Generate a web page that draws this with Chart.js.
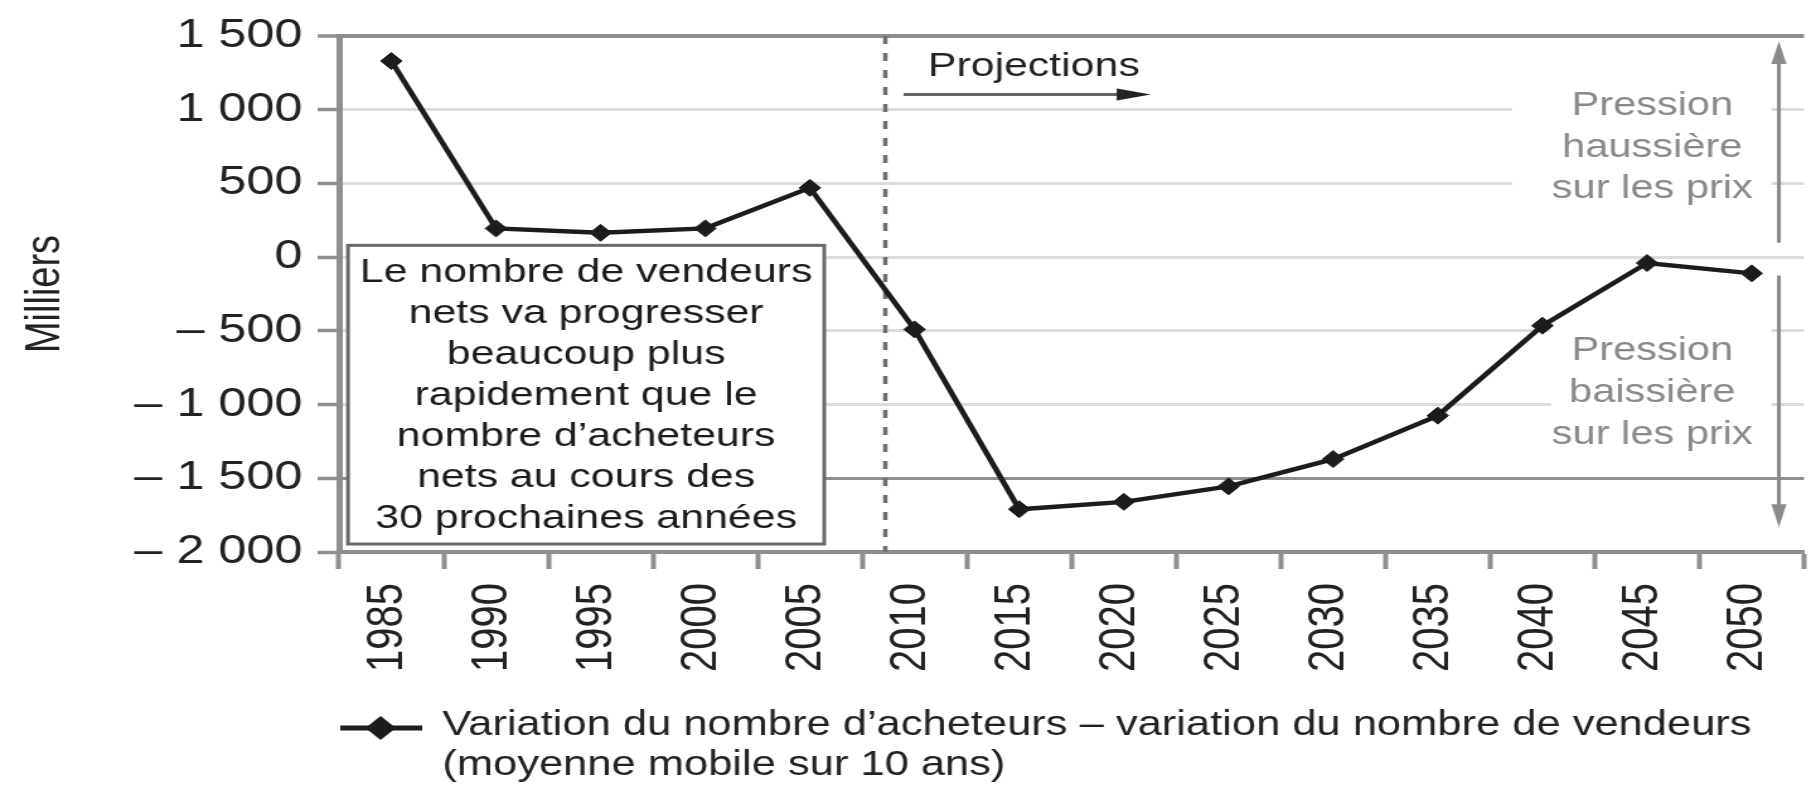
<!DOCTYPE html>
<html lang="fr">
<head>
<meta charset="utf-8">
<title>Acheteurs nets et vendeurs nets</title>
<script src="https://cdn.jsdelivr.net/npm/chart.js@4.4.1/dist/chart.umd.min.js"></script>
<style>
    html, body { margin: 0; padding: 0; background: #fff; overflow: hidden; }
</style>
</head>
<body>
<!-- Le graphique d'origine est étiré en largeur : dessin à 1441 px, affichage à 1816 px -->
<canvas id="graphique" width="1441" height="788" style="display:block;width:1816px;height:788px"></canvas>
<script>
// Années (moyenne mobile sur 10 ans)
const annees = ['1985', '1990', '1995', '2000', '2005', '2010', '2015',
    '2020', '2025', '2030', '2035', '2040', '2045', '2050'];

// Variation du nombre d'acheteurs – variation du nombre de vendeurs (milliers)
const soldeAcheteursVendeurs = [1330, 195, 165, 195, 470, -490, -1710,
    -1660, -1555, -1370, -1075, -465, -40, -110];

// Graduations de l'axe vertical
const graduationsY = [1500, 1000, 500, 0, -500, -1000, -1500, -2000];
const libellesY = ['1 500', '1 000', '500', '0', '– 500', '– 1 000', '– 1 500', '– 2 000'];

// Début des projections (entre 2005 et 2010)
const anneeProjections = 2008.6;

// Textes
const texteEncadre = ['Le nombre de vendeurs', 'nets va progresser', 'beaucoup plus',
    'rapidement que le', 'nombre d’acheteurs', 'nets au cours des', '30 prochaines années'];
const texteHausse = ['Pression', 'haussière', 'sur les prix'];
const texteBaisse = ['Pression', 'baissière', 'sur les prix'];
const texteLegende = ['Variation du nombre d’acheteurs – variation du nombre de vendeurs',
    '(moyenne mobile sur 10 ans)'];

const POLICE = "'Liberation Sans', Arial, sans-serif";
const GRIS_FONCE = '#8f8f8f';
const GRIS_CLAIR = '#dcdcdc';
const GRIS_TEXTE = '#8a8a8a';
const NOIR = '#1c1c1c';

Chart.defaults.font.family = POLICE;

// rang (fractionnaire) d'une année sur l'axe des catégories
function rangAnnee(annee) {
    return (annee - Number(annees[0])) / (Number(annees[1]) - Number(annees[0]));
}

function fleche(ctx, x, y, dx, dy, longueur, demiLargeur) {
    // pointe triangulaire en (x, y), orientée selon (dx, dy)
    ctx.beginPath();
    ctx.moveTo(x, y);
    ctx.lineTo(x - dx * longueur - dy * demiLargeur, y - dy * longueur - dx * demiLargeur);
    ctx.lineTo(x - dx * longueur + dy * demiLargeur, y - dy * longueur + dx * demiLargeur);
    ctx.closePath();
    ctx.fill();
}

// Annotations : encadré, pointillés, flèches, textes et légende
const habillage = {
    id: 'habillage',
    beforeDatasetsDraw(chart) {
        const { ctx, scales: { x, y } } = chart;
        const px = i => x.getPixelForValue(i);
        const py = v => y.getPixelForValue(v);
        ctx.save();

        // fonds blancs derrière les textes de droite
        ctx.fillStyle = '#fff';
        ctx.fillRect(px(10.71), py(1312), px(13.19) - px(10.71), py(167) - py(1312));
        ctx.fillRect(px(11.08), py(-237), px(13.19) - px(11.08), py(-1381) - py(-237));

        // ligne pointillée : début des projections
        const xp = px(rangAnnee(anneeProjections));
        ctx.strokeStyle = '#6e6e6e';
        ctx.lineWidth = 3.5;
        ctx.setLineDash([8, 9]);
        ctx.beginPath();
        ctx.moveTo(xp, py(1500));
        ctx.lineTo(xp, py(-2000));
        ctx.stroke();
        ctx.setLineDash([]);

        // « Projections » et sa flèche
        ctx.fillStyle = '#222';
        ctx.font = '34px ' + POLICE;
        ctx.textAlign = 'left';
        ctx.textBaseline = 'alphabetic';
        ctx.fillText('Projections', px(5.127), py(1231));
        const ya = py(1103);
        ctx.strokeStyle = '#666';
        ctx.lineWidth = 3;
        ctx.beginPath();
        ctx.moveTo(px(4.895), ya);
        ctx.lineTo(px(7.257) - 20, ya);
        ctx.stroke();
        ctx.fillStyle = '#222';
        fleche(ctx, px(7.257), ya, 1, 0, 27, 6);

        // encadré de gauche
        const bx1 = px(-0.414), bx2 = px(4.137), by1 = py(80), by2 = py(-1946);
        ctx.fillStyle = '#fff';
        ctx.fillRect(bx1, by1, bx2 - bx1, by2 - by1);
        ctx.strokeStyle = '#6a6a6a';
        ctx.lineWidth = 3;
        ctx.strokeRect(bx1, by1, bx2 - bx1, by2 - by1);
        ctx.fillStyle = NOIR;
        ctx.font = '34px ' + POLICE;
        ctx.textAlign = 'center';
        texteEncadre.forEach((ligne, i) => {
            ctx.fillText(ligne, (bx1 + bx2) / 2, by1 + 37 + i * 41);
        });

        // pressions sur les prix
        ctx.fillStyle = GRIS_TEXTE;
        ctx.font = '33px ' + POLICE;
        const xc = px(12.05);
        texteHausse.forEach((ligne, i) => ctx.fillText(ligne, xc, py(962) + i * 41.5));
        texteBaisse.forEach((ligne, i) => ctx.fillText(ligne, xc, py(-701) + i * 42));

        // double flèche verticale
        const xf = px(13.26);
        ctx.strokeStyle = GRIS_TEXTE;
        ctx.fillStyle = GRIS_TEXTE;
        ctx.lineWidth = 3;
        ctx.beginPath();
        ctx.moveTo(xf, py(98));
        ctx.lineTo(xf, py(1466) + 15);
        ctx.moveTo(xf, py(-124));
        ctx.lineTo(xf, py(-1832) - 15);
        ctx.stroke();
        fleche(ctx, xf, py(1466), 0, -1, 23, 6);
        fleche(ctx, xf, py(-1832), 0, 1, 23, 6);

        ctx.restore();
    },
    afterDraw(chart) {
        // légende sur deux lignes
        const { ctx, chartArea } = chart;
        const x0 = chartArea.left;
        ctx.save();
        ctx.strokeStyle = NOIR;
        ctx.fillStyle = NOIR;
        ctx.lineWidth = 5;
        ctx.beginPath();
        ctx.moveTo(x0 + 1, 728);
        ctx.lineTo(x0 + 66, 728);
        ctx.stroke();
        Chart.helpers.drawPoint(ctx, { pointStyle: 'rectRot', radius: 8.5, rotation: 0, borderWidth: 1 }, x0 + 33, 728);
        ctx.fillStyle = '#222';
        ctx.font = '34.5px ' + POLICE;
        ctx.textAlign = 'left';
        ctx.textBaseline = 'alphabetic';
        texteLegende.forEach((ligne, i) => ctx.fillText(ligne, x0 + 82, 735 + i * 40));
        ctx.restore();
    }
};

new Chart(document.getElementById('graphique'), {
    type: 'line',
    data: {
        labels: annees,
        datasets: [{
            label: texteLegende.join(' '),
            data: soldeAcheteursVendeurs,
            borderColor: NOIR,
            borderWidth: 4.5,
            tension: 0,
            pointStyle: 'rectRot',
            pointRadius: 8.5,
            pointBackgroundColor: NOIR,
            pointBorderColor: NOIR,
            pointBorderWidth: 1
        }]
    },
    options: {
        responsive: false,
        devicePixelRatio: 1,
        animation: false,
        events: [],
        layout: { padding: { top: 32, right: 0, bottom: 106, left: 0 } },
        plugins: {
            legend: { display: false },
            tooltip: { enabled: false }
        },
        scales: {
            x: {
                offset: true,
                grid: {
                    offset: true,
                    drawOnChartArea: false,
                    tickLength: 17,
                    tickWidth: 4,
                    tickColor: GRIS_FONCE
                },
                border: { color: GRIS_FONCE, width: 4 },
                ticks: {
                    autoSkip: false,
                    minRotation: 90,
                    maxRotation: 90,
                    padding: 14,
                    labelOffset: -3,
                    color: '#222',
                    font: { size: 40 }
                },
                afterFit(scale) {
                    scale.height = 130;
                    scale.paddingLeft = 0;
                    scale.paddingRight = 0;
                }
            },
            y: {
                min: -2000,
                max: 1500,
                afterBuildTicks(scale) {
                    scale.ticks = graduationsY.map(v => ({ value: v }));
                },
                ticks: {
                    padding: 12,
                    color: '#222',
                    font: { size: 40 },
                    callback: v => libellesY[graduationsY.indexOf(v)]
                },
                grid: {
                    color: c => {
                        const v = c.tick && c.tick.value;
                        if (v === -2000) return 'rgba(0,0,0,0)';
                        return (v === 1500 || v === -1500) ? GRIS_FONCE : GRIS_CLAIR;
                    },
                    lineWidth: c => (c.tick && c.tick.value === 1500 ? 4 : 3),
                    tickLength: 17,
                    tickWidth: 3.5,
                    tickColor: GRIS_FONCE
                },
                border: { color: GRIS_FONCE, width: 5 },
                title: {
                    display: true,
                    text: 'Milliers',
                    color: '#222',
                    font: { size: 38 },
                    padding: { top: 14, bottom: 0 }
                },
                afterFit(scale) {
                    scale.width = 269;
                }
            }
        }
    },
    plugins: [habillage]
});
</script>
</body>
</html>
